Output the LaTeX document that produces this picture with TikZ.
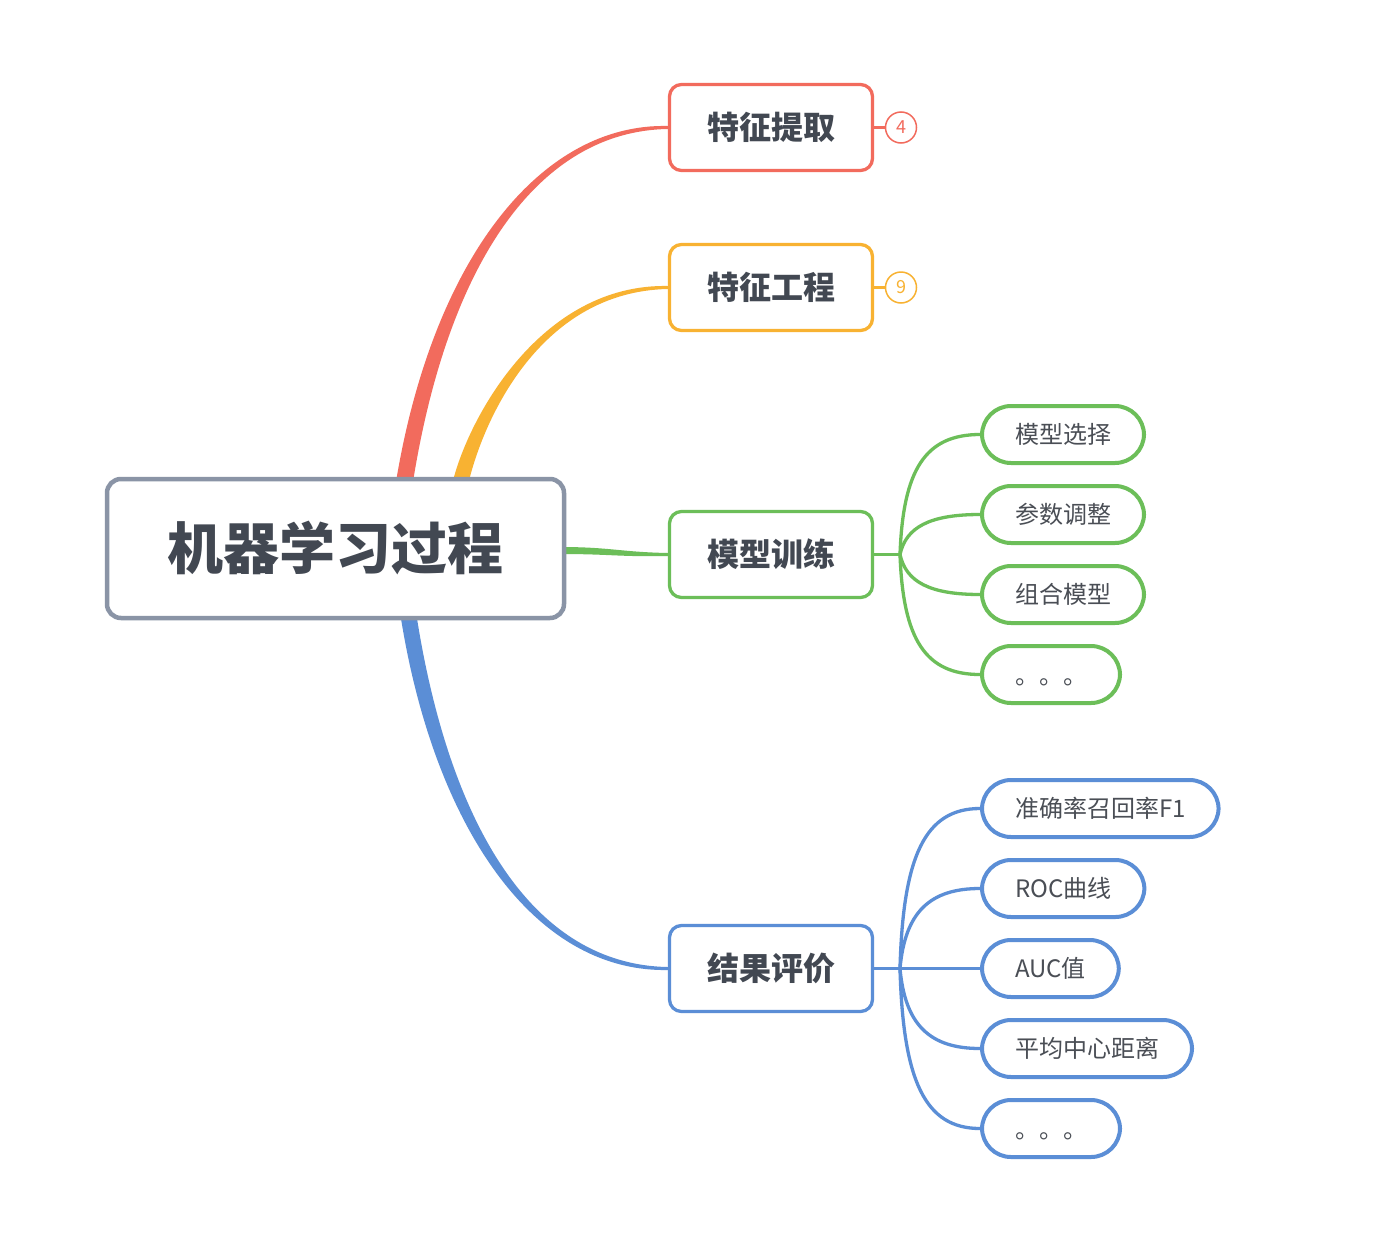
\documentclass[tikz,border=0pt]{standalone}
\usepackage{fontspec}
\setmainfont{Noto Sans CJK SC}
\usetikzlibrary{calc,backgrounds}
\definecolor{cred}{HTML}{F26B5D}
\definecolor{corange}{HTML}{F8B232}
\definecolor{cgreen}{HTML}{6CBE59}
\definecolor{cblue}{HTML}{5B8ED6}
\definecolor{cgray}{HTML}{8A94A6}
\definecolor{ctext}{HTML}{424852}
\definecolor{cleaftext}{HTML}{4A4E55}
\newcommand{\lowdots}{\raisebox{-8pt}[\height][\depth]{。。。}}
\tikzset{
  rootbox/.style={draw=cgray, rounded corners=14pt, line width=4.5pt, minimum width=457pt, minimum height=139pt, fill=white, text=ctext, font=\bfseries\fontsize{56}{60}\selectfont},
  branchbox/.style={draw, rounded corners=12pt, line width=3.3pt, minimum width=203pt, minimum height=86pt, fill=white, text=ctext, font=\bfseries\fontsize{32}{36}\selectfont},
  leafbox/.style={draw, rounded corners=29pt, line width=4pt, minimum height=57pt, inner xsep=33pt, anchor=west, fill=white, text=cleaftext, font=\fontsize{24}{28}\selectfont},
  countbox/.style={circle, draw, line width=1.5pt, minimum size=31pt, inner sep=0pt, fill=white, font=\fontsize{18}{20}\selectfont},
  leafline/.style={line width=3.3pt},
}
\begin{document}
\begin{tikzpicture}[x=1pt,y=-1pt]
\useasboundingbox (0,0) rectangle (1378,1234);
% nodes
\node[rootbox] (root) at (335.5,548.5) {机器学习过程};
\node[branchbox, draw=cred] (fe) at (771,127.5) {特征提取};
\node[branchbox, draw=corange] (fg) at (771,287.5) {特征工程};
\node[branchbox, draw=cgreen] (mt) at (771,554.5) {模型训练};
\node[branchbox, draw=cblue] (ev) at (771,968.5) {结果评价};
\node[countbox, draw=cred, text=cred] (n4) at (901,127.5) {4};
\node[countbox, draw=corange, text=corange] (n9) at (901,287.5) {9};
% green leaves
\node[leafbox, draw=cgreen] (g1) at (980,434.5) {模型选择};
\node[leafbox, draw=cgreen] (g2) at (980,514.5) {参数调整};
\node[leafbox, draw=cgreen] (g3) at (980,594.5) {组合模型};
\node[leafbox, draw=cgreen] (g4) at (980,674.5) {\lowdots};
% blue leaves
\node[leafbox, draw=cblue] (b1) at (980,808.5) {准确率召回率F1};
\node[leafbox, draw=cblue] (b2) at (980,888.5) {ROC曲线};
\node[leafbox, draw=cblue] (b3) at (980,968.5) {AUC值};
\node[leafbox, draw=cblue] (b4) at (980,1048.5) {平均中心距离};
\node[leafbox, draw=cblue] (b5) at (980,1128.5) {\lowdots};
\coordinate (gf) at (900,554.5);
\coordinate (bf) at (900,968.5);
\coordinate (rs) at ($(root.north)+(68.5,8)$);
\coordinate (os) at ($(root.north)+(124.5,8)$);
\coordinate (gs) at ($(root.east)+(-6,2)$);
\coordinate (bs) at ($(root.south)+(72.5,-8)$);
\begin{pgfonlayer}{background}
\fill[white] (0,0) rectangle (1378,1234);
% tapered main connectors
\fill[cred] ($(rs)+(-8.5,0)$) .. controls (432,260) and (540,123) .. ($(fe.west)+(0,-1.5)$)
  -- ($(fe.west)+(0,1.5)$) .. controls (540,131) and (448,260) .. ($(rs)+(8.5,0)$) -- cycle;
\fill[corange] ($(os)+(-8,0)$) .. controls (467,420) and (540,283.5) .. ($(fg.west)+(0,-1.5)$)
  -- ($(fg.west)+(0,1.5)$) .. controls (540,291.5) and (483,420) .. ($(os)+(8,0)$) -- cycle;
\fill[cgreen] ($(gs)+(0,-3.5)$) .. controls (610,547) and (620,552) .. ($(mt.west)+(0,-1.5)$)
  -- ($(mt.west)+(0,1.5)$) .. controls (620,557) and (610,554) .. ($(gs)+(0,3.5)$) -- cycle;
\fill[cblue] ($(bs)+(-8,0)$) .. controls (432,820) and (530,972.5) .. ($(ev.west)+(0,1.5)$)
  -- ($(ev.west)+(0,-1.5)$) .. controls (530,964.5) and (448,820) .. ($(bs)+(8,0)$) -- cycle;
% count connectors
\draw[cred, line width=3pt] (fe.east) -- (n4.west);
\draw[corange, line width=3pt] (fg.east) -- (n9.west);
% green leaf connectors
\draw[cgreen, leafline] (mt.east) -- (gf);
\draw[cgreen, leafline] (gf) .. controls (903,470) and (925,434.5) .. (g1.west);
\draw[cgreen, leafline] (gf) .. controls (906,527) and (930,514.5) .. (g2.west);
\draw[cgreen, leafline] (gf) .. controls (906,582) and (930,594.5) .. (g3.west);
\draw[cgreen, leafline] (gf) .. controls (903,639) and (925,674.5) .. (g4.west);
% blue leaf connectors
\draw[cblue, leafline] (ev.east) -- (b3.west);
\draw[cblue, leafline] (bf) .. controls (903,856) and (925,808.5) .. (b1.west);
\draw[cblue, leafline] (bf) .. controls (905,912) and (930,888.5) .. (b2.west);
\draw[cblue, leafline] (bf) .. controls (905,1025) and (930,1048.5) .. (b4.west);
\draw[cblue, leafline] (bf) .. controls (903,1081) and (925,1128.5) .. (b5.west);
\end{pgfonlayer}
\end{tikzpicture}
\end{document}
